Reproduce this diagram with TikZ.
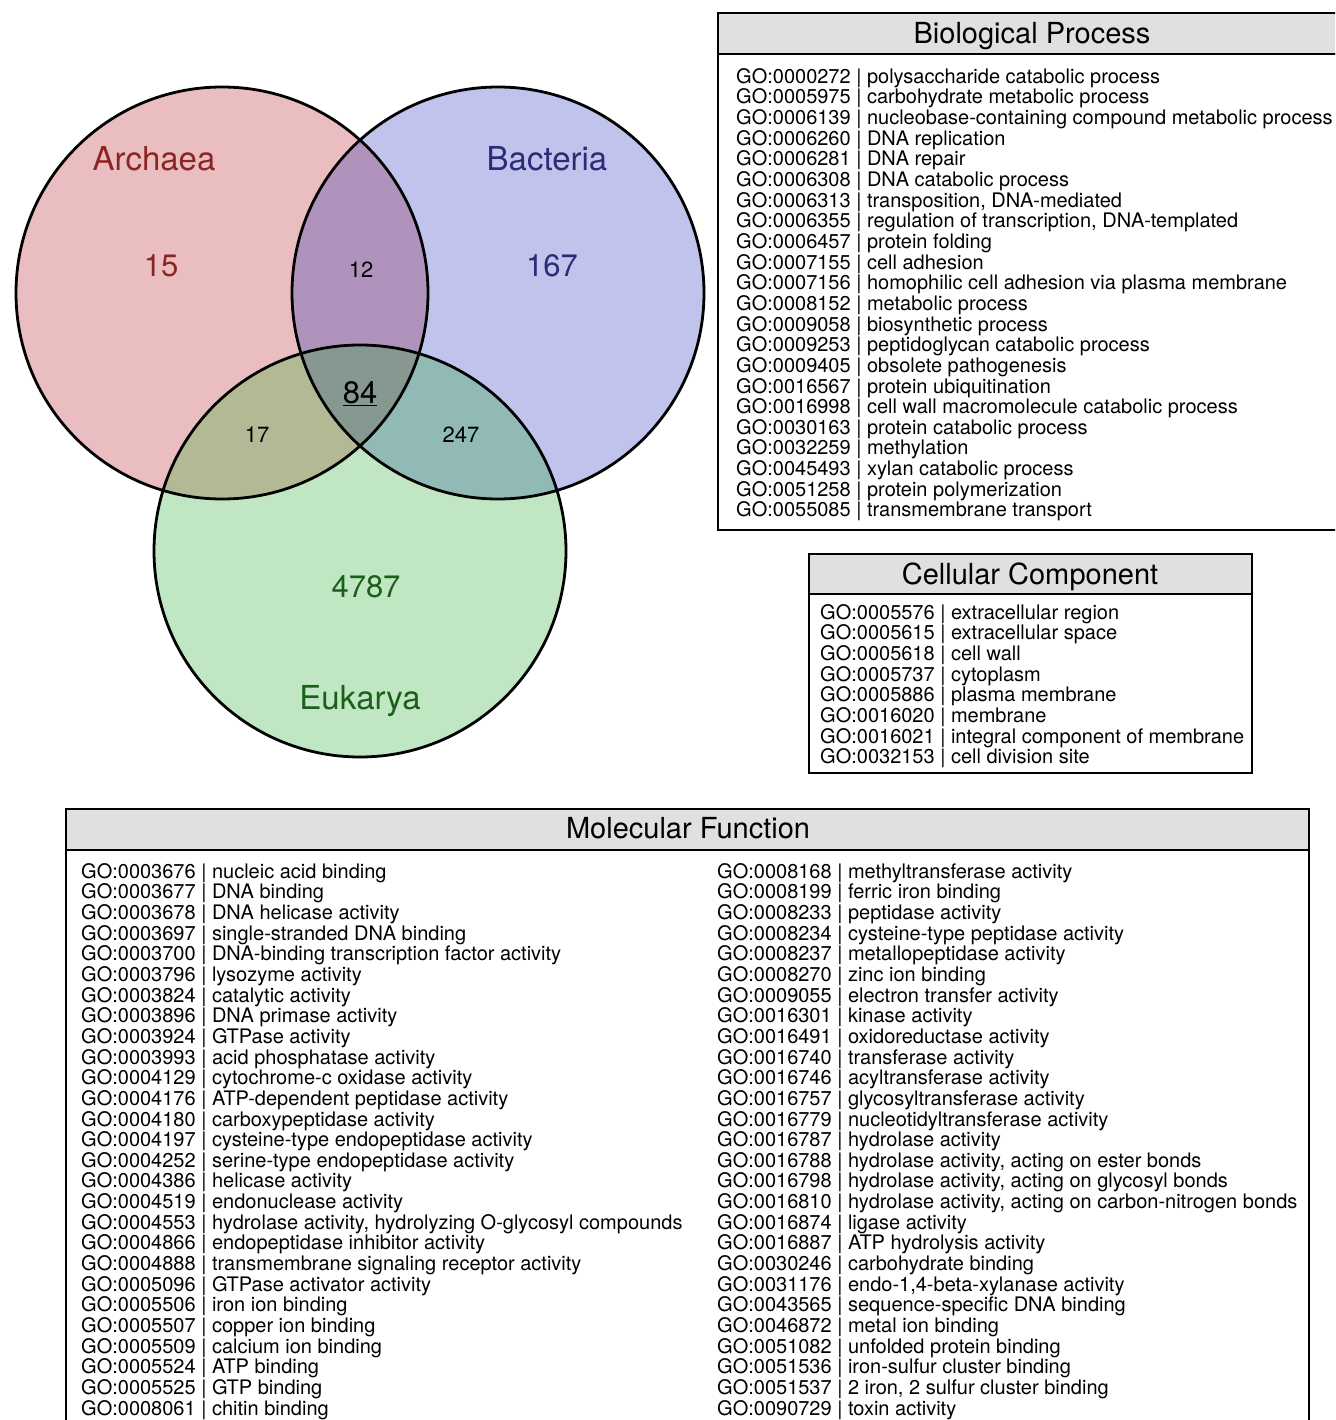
\documentclass[tikz,border=0pt]{standalone}
\usepackage{fontspec}
\setmainfont{TeX Gyre Heros}
\definecolor{archfill}{HTML}{EABEC1}
\definecolor{bactfill}{HTML}{C0C3EB}
\definecolor{eukfill}{HTML}{C1E6C3}
\definecolor{abfill}{HTML}{B093BD}
\definecolor{aefill}{HTML}{B2B994}
\definecolor{befill}{HTML}{91B9B5}
\definecolor{abefill}{HTML}{879890}
\definecolor{archtext}{HTML}{8B2525}
\definecolor{bacttext}{HTML}{2B2B78}
\definecolor{euktext}{HTML}{1A601A}
\definecolor{headgrey}{HTML}{E0E0E0}
\begin{document}
\begin{tikzpicture}[
        x=1pt, y=-1pt,
        setname/.style={anchor=base, font=\fontsize{33}{36}\selectfont},
        bignum/.style={anchor=base, font=\fontsize{31}{34}\selectfont},
        smallnum/.style={anchor=base, font=\fontsize{22}{24}\selectfont},
        boxtitle/.style={anchor=base, font=\fontsize{29}{32}\selectfont},
        golist/.style={anchor=base west, align=left, inner sep=0pt, font=\fontsize{20}{20.65}\selectfont},
        venn/.style={draw=black, line width=2.8pt},
        panel/.style={draw=black, line width=2pt},
    ]
    \useasboundingbox (0,0) rectangle (1335,1420);
    \clip (0,0) rectangle (1335,1420);
    % venn diagram
    \coordinate (arch) at (222,293);
    \coordinate (bact) at (498,293);
    \coordinate (euk) at (360,551);
    \fill[archfill] (arch) circle[radius=206pt];
    \fill[bactfill] (bact) circle[radius=206pt];
    \fill[eukfill] (euk) circle[radius=206pt];
    \begin{scope}
        \clip (bact) circle[radius=206pt];
        \fill[befill] (euk) circle[radius=206pt];
    \end{scope}
    \begin{scope}
        \clip (arch) circle[radius=206pt];
        \fill[abfill] (bact) circle[radius=206pt];
        \fill[aefill] (euk) circle[radius=206pt];
        \clip (bact) circle[radius=206pt];
        \fill[abefill] (euk) circle[radius=206pt];
    \end{scope}
    \draw[venn] (arch) circle[radius=206pt];
    \draw[venn] (bact) circle[radius=206pt];
    \draw[venn] (euk) circle[radius=206pt];
    \node[setname, text=archtext] (archname) at (154,170.8) {Archaea};
    \node[setname, text=bacttext] (bactname) at (547,170.8) {Bacteria};
    \node[setname, text=euktext] (eukname) at (360,709.8) {Eukarya};
    \node[bignum, text=archtext] (archonly) at (161,277) {15};
    \node[bignum, text=bacttext] (bactonly) at (552,277) {167};
    \node[bignum, text=euktext] (eukonly) at (366,597) {4787};
    \node[smallnum] (ab) at (361,277.7) {12};
    \node[smallnum] (ae) at (257,442.7) {17};
    \node[smallnum] (be) at (461,442.7) {247};
    \node[bignum] (abe) at (360,403) {\underline{84}};
    % biological process (lists are placed by their last baseline)
    \draw[panel, fill=headgrey] (718,13) rectangle (1345,54);
    \draw[panel] (718,54) rectangle (1345,530);
    \node[boxtitle] (bptitle) at (1032,43.4) {Biological Process};
    \node[golist] (bplist) at (736,516.9) {%
        GO:0000272 | polysaccharide catabolic process\\
        GO:0005975 | carbohydrate metabolic process\\
        GO:0006139 | nucleobase-containing compound metabolic process\\
        GO:0006260 | DNA replication\\
        GO:0006281 | DNA repair\\
        GO:0006308 | DNA catabolic process\\
        GO:0006313 | transposition, DNA-mediated\\
        GO:0006355 | regulation of transcription, DNA-templated\\
        GO:0006457 | protein folding\\
        GO:0007155 | cell adhesion\\
        GO:0007156 | homophilic cell adhesion via plasma membrane\\
        GO:0008152 | metabolic process\\
        GO:0009058 | biosynthetic process\\
        GO:0009253 | peptidoglycan catabolic process\\
        GO:0009405 | obsolete pathogenesis\\
        GO:0016567 | protein ubiquitination\\
        GO:0016998 | cell wall macromolecule catabolic process\\
        GO:0030163 | protein catabolic process\\
        GO:0032259 | methylation\\
        GO:0045493 | xylan catabolic process\\
        GO:0051258 | protein polymerization\\
        GO:0055085 | transmembrane transport};
    % cellular component
    \draw[panel, fill=headgrey] (809,554) rectangle (1252,594);
    \draw[panel] (809,594) rectangle (1252,773);
    \node[boxtitle] (cctitle) at (1030,584.4) {Cellular Component};
    \node[golist] (cclist) at (820,763.8) {%
        GO:0005576 | extracellular region\\
        GO:0005615 | extracellular space\\
        GO:0005618 | cell wall\\
        GO:0005737 | cytoplasm\\
        GO:0005886 | plasma membrane\\
        GO:0016020 | membrane\\
        GO:0016021 | integral component of membrane\\
        GO:0032153 | cell division site};
    % molecular function
    \draw[panel, fill=headgrey] (66,809) rectangle (1309,850);
    \draw[panel] (66,850) rectangle (1309,1440);
    \node[boxtitle] (mftitle) at (688,838.4) {Molecular Function};
    \node[golist] (mfleft) at (81,1415.1) {%
        GO:0003676 | nucleic acid binding\\
        GO:0003677 | DNA binding\\
        GO:0003678 | DNA helicase activity\\
        GO:0003697 | single-stranded DNA binding\\
        GO:0003700 | DNA-binding transcription factor activity\\
        GO:0003796 | lysozyme activity\\
        GO:0003824 | catalytic activity\\
        GO:0003896 | DNA primase activity\\
        GO:0003924 | GTPase activity\\
        GO:0003993 | acid phosphatase activity\\
        GO:0004129 | cytochrome-c oxidase activity\\
        GO:0004176 | ATP-dependent peptidase activity\\
        GO:0004180 | carboxypeptidase activity\\
        GO:0004197 | cysteine-type endopeptidase activity\\
        GO:0004252 | serine-type endopeptidase activity\\
        GO:0004386 | helicase activity\\
        GO:0004519 | endonuclease activity\\
        GO:0004553 | hydrolase activity, hydrolyzing O-glycosyl compounds\\
        GO:0004866 | endopeptidase inhibitor activity\\
        GO:0004888 | transmembrane signaling receptor activity\\
        GO:0005096 | GTPase activator activity\\
        GO:0005506 | iron ion binding\\
        GO:0005507 | copper ion binding\\
        GO:0005509 | calcium ion binding\\
        GO:0005524 | ATP binding\\
        GO:0005525 | GTP binding\\
        GO:0008061 | chitin binding};
    \node[golist] (mfright) at (717,1415.1) {%
        GO:0008168 | methyltransferase activity\\
        GO:0008199 | ferric iron binding\\
        GO:0008233 | peptidase activity\\
        GO:0008234 | cysteine-type peptidase activity\\
        GO:0008237 | metallopeptidase activity\\
        GO:0008270 | zinc ion binding\\
        GO:0009055 | electron transfer activity\\
        GO:0016301 | kinase activity\\
        GO:0016491 | oxidoreductase activity\\
        GO:0016740 | transferase activity\\
        GO:0016746 | acyltransferase activity\\
        GO:0016757 | glycosyltransferase activity\\
        GO:0016779 | nucleotidyltransferase activity\\
        GO:0016787 | hydrolase activity\\
        GO:0016788 | hydrolase activity, acting on ester bonds\\
        GO:0016798 | hydrolase activity, acting on glycosyl bonds\\
        GO:0016810 | hydrolase activity, acting on carbon-nitrogen bonds\\
        GO:0016874 | ligase activity\\
        GO:0016887 | ATP hydrolysis activity\\
        GO:0030246 | carbohydrate binding\\
        GO:0031176 | endo-1,4-beta-xylanase activity\\
        GO:0043565 | sequence-specific DNA binding\\
        GO:0046872 | metal ion binding\\
        GO:0051082 | unfolded protein binding\\
        GO:0051536 | iron-sulfur cluster binding\\
        GO:0051537 | 2 iron, 2 sulfur cluster binding\\
        GO:0090729 | toxin activity};
\end{tikzpicture}
\end{document}
